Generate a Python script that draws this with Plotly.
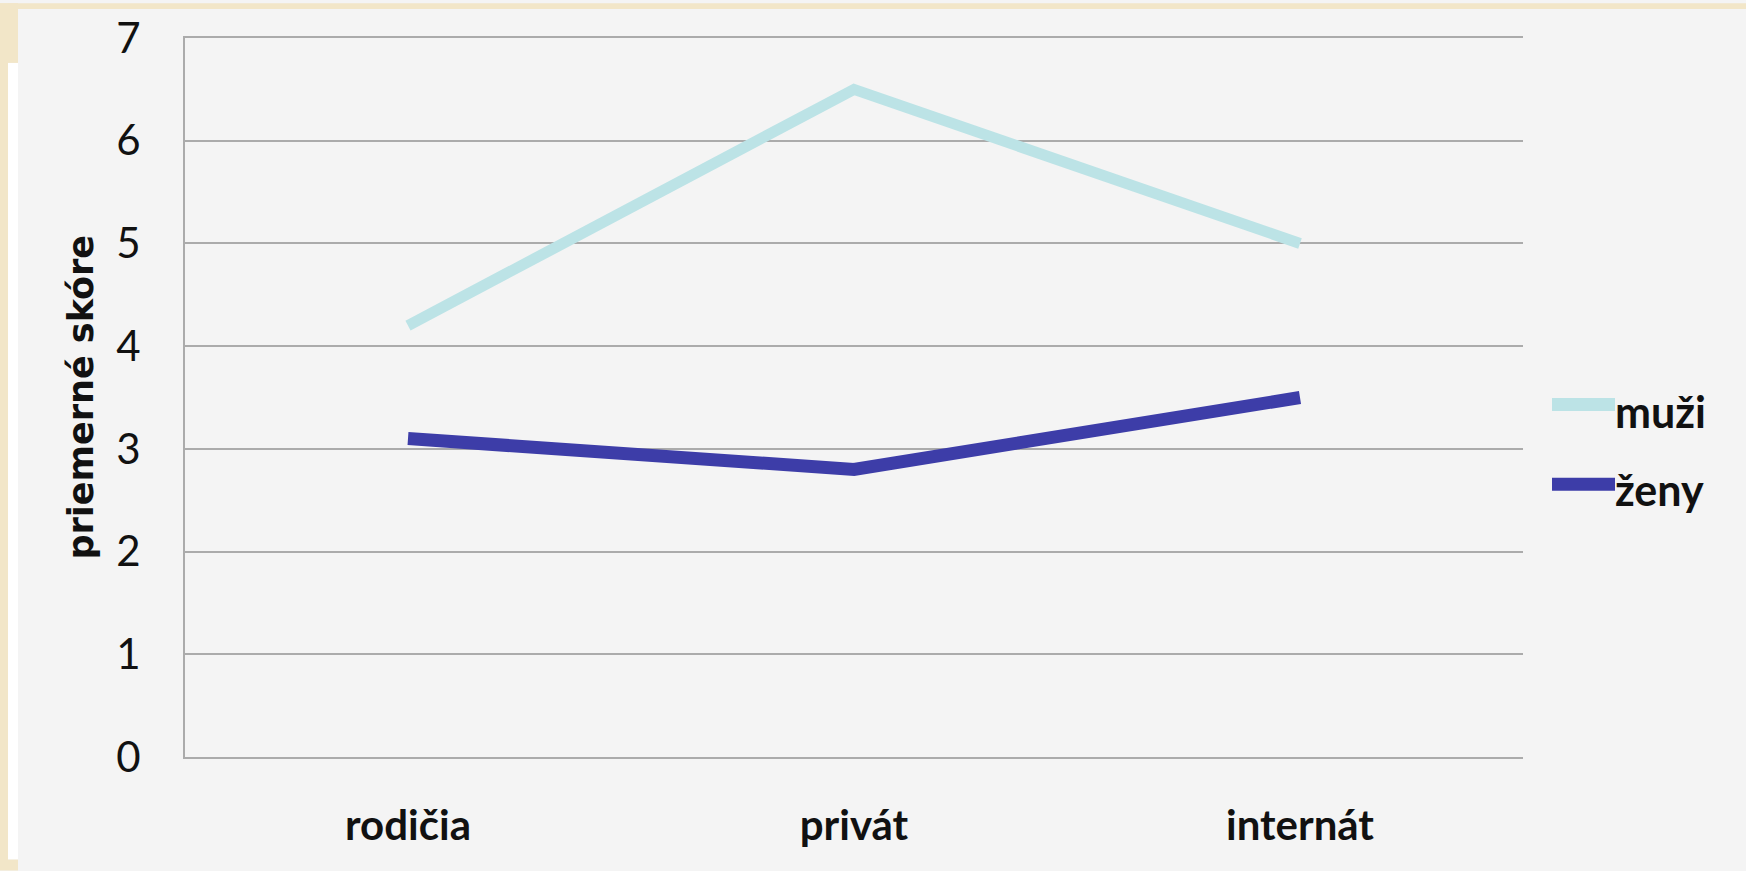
import plotly.graph_objects as go

categories = ["rodičia", "privát", "internát"]
muzi = [4.2, 6.5, 5.0]
zeny = [3.1, 2.8, 3.5]
series_names = ["muži", "ženy"]
y_ticks = [0, 1, 2, 3, 4, 5, 6, 7]
y_title = "priemerné skóre"

W, H = 1746, 871
L, R, T, B = 185, 1523, 35, 757  # plot-area pixel box

def px(x):
    return (x - L) / (R - L)

def py(y):
    return (B - y) / (B - T)

col_m = "#BCE3E6"
col_z = "#3D3DA8"
grid = "#ABABAB"
beige = "#F2E6C8"

fig = go.Figure()
fig.add_trace(go.Scatter(x=categories, y=muzi, mode="lines", name=series_names[0],
                         line=dict(color=col_m, width=11), showlegend=False))
fig.add_trace(go.Scatter(x=categories, y=zeny, mode="lines", name=series_names[1],
                         line=dict(color=col_z, width=13), showlegend=False))

shapes = []
def rect(x0, y0, x1, y1, color):
    shapes.append(dict(type="rect", xref="paper", yref="paper",
                       x0=px(x0), x1=px(x1), y0=py(y1), y1=py(y0),
                       fillcolor=color, line=dict(width=0), layer="below"))

rect(0, 0, W, 6, beige)
rect(0, 0, 8, H, beige)
rect(8, 0, 18, 60, beige)
rect(8, 60, 18, 860, "#FFFFFF")
rect(8, 860, 18, H, beige)

# legend (manual)
leg_x0, leg_x1, leg_text_x = 1552, 1615, 1613
leg_rows = [(403, 410, col_m, 13), (483, 488, col_z, 13)]
annotations = []
for name, (ly, ty, c, w) in zip(series_names, leg_rows):
    shapes.append(dict(type="line", xref="paper", yref="paper",
                       x0=px(leg_x0), x1=px(leg_x1), y0=py(ly), y1=py(ly),
                       line=dict(color=c, width=w)))
    annotations.append(dict(xref="paper", yref="paper", x=px(leg_text_x), y=py(ty),
                            text=f"<b>{name}</b>", showarrow=False, xanchor="left", yanchor="middle",
                            font=dict(family="Lato", size=43, color="#111111")))

annotations.append(dict(xref="paper", yref="paper", x=px(80), y=py(396), text=f"<b>{y_title}</b>",
                        textangle=-90, showarrow=False, xanchor="center", yanchor="middle",
                        font=dict(family="DejaVu Sans", size=35, color="#111111")))

fig.update_layout(
    width=W, height=H,
    margin=dict(l=L, r=W - R, t=T, b=H - B, pad=0),
    paper_bgcolor="#F4F4F4", plot_bgcolor="#F4F4F4",
    shapes=shapes, annotations=annotations,
    showlegend=False,
)
fig.update_xaxes(type="category", range=[-0.5, 2.5], showgrid=False, showline=True,
                 mirror=True, linecolor=grid, linewidth=2, ticks="", ticklabelstandoff=31,
                 tickfont=dict(family="Lato", size=42, color="#111111"),
                 tickvals=categories, ticktext=[f"<b>{c}</b>" for c in categories])
fig.update_yaxes(range=[0, 7], tickvals=y_ticks, showgrid=True, gridcolor=grid, gridwidth=2,
                 showline=True, linecolor=grid, linewidth=2, zeroline=False, ticks="",
                 ticklabelstandoff=34, tickfont=dict(family="Lato", size=42, color="#111111"))

fig.write_html("out.html", config={"displayModeBar": False},
               post_script="document.body.style.margin='0';document.body.style.overflow='hidden';")
